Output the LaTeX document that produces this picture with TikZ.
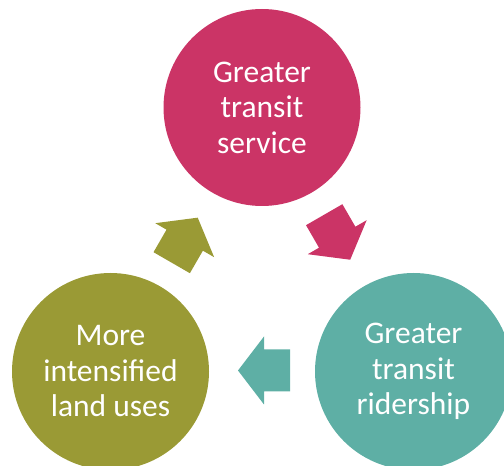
\documentclass[tikz,border=0pt]{standalone}
\usepackage{fontspec}
\setmainfont{Carlito}
\definecolor{cpink}{RGB}{203,52,102}
\definecolor{cteal}{RGB}{94,175,165}
\definecolor{colive}{RGB}{154,154,53}
\begin{document}
\begin{tikzpicture}[x=1pt,y=1pt,
  bubble/.style={circle,minimum size=197pt,inner sep=0pt,text=white,align=center,
    font=\fontsize{31.5}{35.5}\selectfont},
  blockarrow/.pic={\fill[pic actions] (0,-21) -- (26,-21) -- (26,-34) -- (52,0) -- (26,34) -- (26,21) -- (0,21) -- cycle;}]
\useasboundingbox (0,0) rectangle (504,466);
\clip (0,0) rectangle (504,466);
\node[bubble,fill=cpink] (svc) at (262,358.5) {Greater\\transit\\service};
\node[bubble,fill=colive] (land) at (110.5,94.5) {More\\intensified\\land uses};
\node[bubble,fill=cteal] (rid) at (413.5,94.5) {Greater\\transit\\ridership};
\pic[fill=cteal,rotate=180] at (290,95.5) {blockarrow};
\pic[fill=colive,rotate=60] at (171.7,203.3) {blockarrow};
\pic[fill=cpink,rotate=-60] at (324.2,251.3) {blockarrow};
\end{tikzpicture}
\end{document}
